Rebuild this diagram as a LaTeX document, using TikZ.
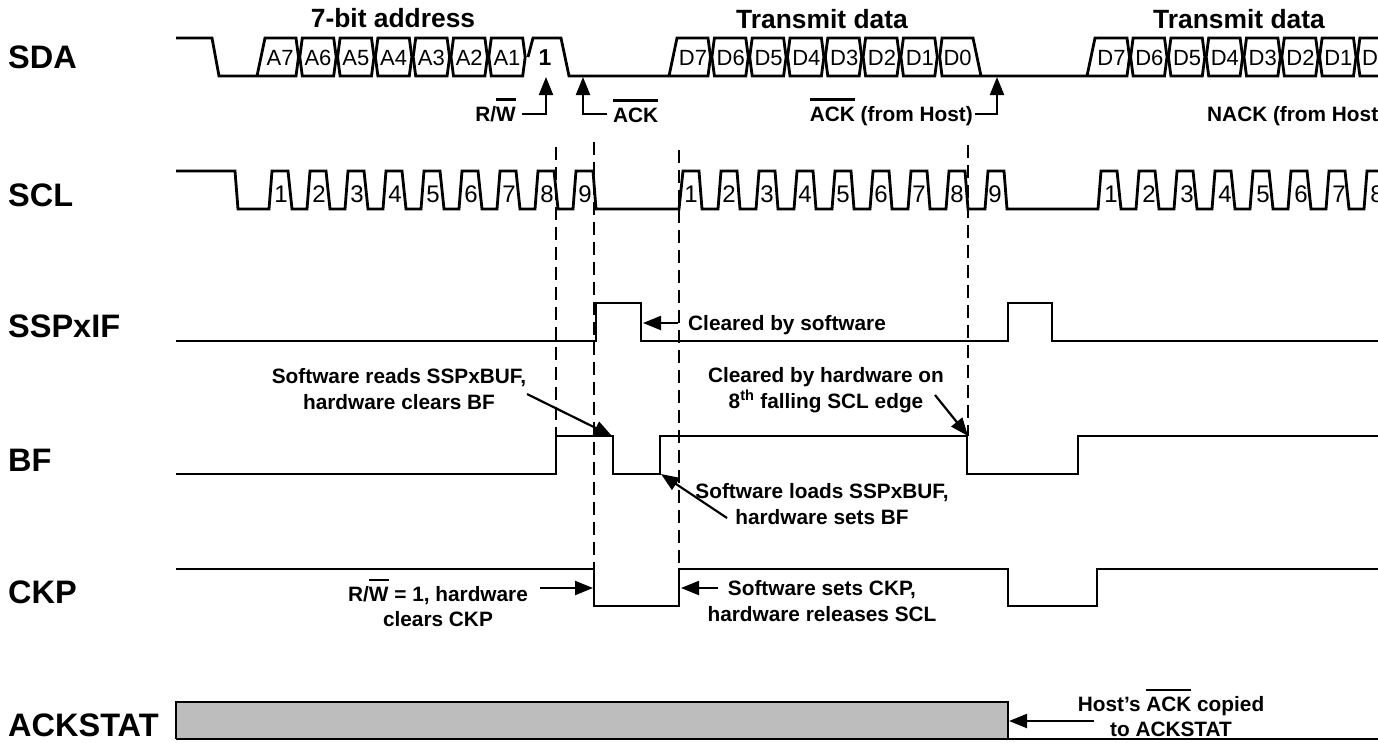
\documentclass[tikz,border=0pt]{standalone}
\usepackage{fontspec}
\setmainfont{Liberation Sans}
\usetikzlibrary{arrows.meta}
\newcommand{\ovl}[1]{\setbox0\hbox{#1}\rlap{\raisebox{0.98em}{\rule{\wd0}{0.11em}}}\box0\relax}
\definecolor{ackgray}{HTML}{BDBDBD}
\tikzset{
  x=1pt,y=-1pt,
  wave/.style={line width=2.8pt,line join=miter,line cap=butt,draw=black},
  guide/.style={line width=1.9pt,dash pattern=on 13pt off 7pt,draw=black},
  ann/.style={line width=2.2pt,draw=black,-{Triangle[length=18pt,width=14pt]}},
  sig/.style={font=\fontsize{32.5}{35}\selectfont\bfseries,anchor=base west,inner sep=0pt},
  head/.style={font=\fontsize{26.4}{28}\selectfont\bfseries,inner sep=0pt,anchor=base},
  bit/.style={font=\fontsize{22}{24}\selectfont,inner sep=0pt,anchor=base},
  num/.style={font=\fontsize{24}{26}\selectfont,inner sep=0pt,anchor=base},
  note/.style={font=\fontsize{20.8}{25.5}\selectfont\bfseries,align=center,inner sep=0pt},
}
\begin{document}
\begin{tikzpicture}
\useasboundingbox (0,0) rectangle (1378,742);
\clip (0,0) rectangle (1378,742);
% ACKSTAT bar
\draw[wave,fill=ackgray] (176,739) -- (176,702) -- (1008,702) -- (1008,739);
\draw[wave] (176,739) -- (1378,739);
% guide lines
\coordinate (g1a) at (556,147); \coordinate (g1b) at (556,436);
\coordinate (g2a) at (594,142); \coordinate (g2b) at (594,606);
\coordinate (g3a) at (679,150); \coordinate (g3b) at (679,606);
\coordinate (g4a) at (968,145); \coordinate (g4b) at (968,436);
\draw[guide] (g1a) -- (g1b);
\draw[guide] (g2a) -- (g2b);
\draw[guide] (g3a) -- (g3b);
\draw[guide] (g4a) -- (g4b);
% SDA
\draw[wave] (176,38) -- (212,38) -- (219,76) -- (257,76) -- (265,38) -- (296,38) -- (298.5,57) -- (296,76) -- (257,76);
\foreach \i in {1,...,6} {
  \pgfmathsetmacro{\c}{280.2+37.8*\i}
  \draw[wave] (\c-15.7,38) -- (\c+15.7,38) -- (\c+18.2,57) -- (\c+15.7,76) -- (\c-15.7,76) -- (\c-18.2,57) -- cycle;
}
\draw[wave] (528,57) -- (533,38) -- (561,38) -- (569,76) -- (669,76) -- (677,38) -- (708,38) -- (710.5,57) -- (708,76) -- (669,76);
\foreach \i in {1,...,6} {
  \pgfmathsetmacro{\c}{692.3+37.8*\i}
  \draw[wave] (\c-15.7,38) -- (\c+15.7,38) -- (\c+18.2,57) -- (\c+15.7,76) -- (\c-15.7,76) -- (\c-18.2,57) -- cycle;
}
\draw[wave] (981,76) -- (942,76) -- (939.7,57) -- (942,38) -- (973,38) -- (981,76) -- (1087,76) -- (1095,38) -- (1127,38) -- (1129.5,57) -- (1127,76) -- (1087,76);
\foreach \i in {1,...,7} {
  \pgfmathsetmacro{\c}{1111+37.8*\i}
  \draw[wave] (\c-15.7,38) -- (\c+15.7,38) -- (\c+18.2,57) -- (\c+15.7,76) -- (\c-15.7,76) -- (\c-18.2,57) -- cycle;
}
\foreach \t [count=\i from 0] in {A7,A6,A5,A4,A3,A2,A1} {
  \pgfmathsetmacro{\c}{280.2+37.8*\i}
  \node[bit] (a\i) at (\c,65) {\t};
}
\node[bit,font=\fontsize{23}{24}\selectfont\bfseries] (rwbit) at (545,65) {1};
\foreach \t [count=\i from 0] in {D7,D6,D5,D4,D3,D2,D1,D0} {
  \pgfmathsetmacro{\c}{693+37.8*\i}
  \node[bit] (p\i) at (\c,65) {\t};
  \pgfmathsetmacro{\c}{1111.5+37.8*\i}
  \node[bit] (q\i) at (\c,65) {\t};
}
% SCL
\draw[wave] (176,171) -- (235,171) -- (238,209) -- (269,209)
  -- (272,171) -- (288,171) -- (292,209) -- (307,209)
  -- (310,171) -- (326,171) -- (330,209) -- (345,209)
  -- (348,171) -- (364,171) -- (368,209) -- (383,209)
  -- (386,171) -- (402,171) -- (406,209) -- (421,209)
  -- (424,171) -- (440,171) -- (444,209) -- (459,209)
  -- (462,171) -- (478,171) -- (482,209) -- (497,209)
  -- (500,171) -- (516,171) -- (520,209) -- (535,209)
  -- (538,171) -- (554,171) -- (558,209) -- (573,209)
  -- (576,171) -- (593,171) -- (596,209) -- (679,209)
  -- (683,171) -- (699,171) -- (702,209) -- (718,209)
  -- (721,171) -- (737,171) -- (740,209) -- (756,209)
  -- (759,171) -- (775,171) -- (778,209) -- (794,209)
  -- (797,171) -- (813,171) -- (816,209) -- (832,209)
  -- (835,171) -- (851,171) -- (854,209) -- (870,209)
  -- (873,171) -- (889,171) -- (892,209) -- (908,209)
  -- (911,171) -- (927,171) -- (930,209) -- (946,209)
  -- (949,171) -- (965,171) -- (968,209) -- (985,209)
  -- (988,171) -- (1004,171) -- (1007,209) -- (1098,209)
  -- (1101,171) -- (1117,171) -- (1121,209) -- (1136,209)
  -- (1139,171) -- (1155,171) -- (1159,209) -- (1174,209)
  -- (1177,171) -- (1193,171) -- (1197,209) -- (1212,209)
  -- (1215,171) -- (1231,171) -- (1235,209) -- (1250,209)
  -- (1253,171) -- (1269,171) -- (1273,209) -- (1288,209)
  -- (1291,171) -- (1307,171) -- (1311,209) -- (1326,209)
  -- (1329,171) -- (1345,171) -- (1349,209) -- (1364,209)
  -- (1367,171) -- (1385,171);
\foreach \i in {1,...,9} {
  \pgfmathsetmacro{\c}{243+38*\i}
  \node[num] (s\i) at (\c,202) {\i};
  \pgfmathsetmacro{\c}{653+38*\i}
  \node[num] (u\i) at (\c,202) {\i};
}
\foreach \i in {1,...,8} {
  \pgfmathsetmacro{\c}{1073+38*\i}
  \node[num] (v\i) at (\c,202) {\i};
}
% SSPxIF
\draw[wave] (176,341) -- (596,341) -- (596,303) -- (641,303) -- (641,341) -- (1008,341) -- (1008,303) -- (1052,303) -- (1052,341) -- (1385,341);
% BF
\draw[wave] (176,474) -- (556,474) -- (556,436) -- (613,436) -- (613,474) -- (660,474) -- (660,436) -- (967,436) -- (967,474) -- (1078,474) -- (1078,436) -- (1385,436);
% CKP
\draw[wave] (176,569) -- (594,569) -- (594,606) -- (679,606) -- (679,569) -- (1008,569) -- (1008,606) -- (1097,606) -- (1097,569) -- (1385,569);
% signal names
\node[sig] (nSDA) at (8,68) {SDA};
\node[sig] (nSCL) at (8,206) {SCL};
\node[sig] (nIF) at (8,337) {SSPxIF};
\node[sig] (nBF) at (8,471) {BF};
\node[sig] (nCKP) at (8,603) {CKP};
\node[sig] (nACK) at (8,736) {ACKSTAT};
% headings
\node[head] (h1) at (393,27) {7-bit address};
\node[head] (h2) at (822,28) {Transmit data};
\node[head] (h3) at (1239,28) {Transmit data};
% notes
\node[note,anchor=base east] (rw) at (516,121) {R/\ovl{W}};
\node[note,anchor=base west] (ack1) at (613,122) {\ovl{ACK}};
\node[note,anchor=base east] (ack2) at (973,121) {\ovl{ACK} (from Host)};
\node[note,anchor=base west] (nack) at (1207,121) {NACK (from Host)};
\node[note,anchor=base west] (clr) at (688,330) {Cleared by software};
\node[note] (swr) at (399,389) {Software reads SSPxBUF,\\hardware clears BF};
\node[note] (chw) at (826,390) {Cleared by hardware on\\8\textsuperscript{th} falling SCL edge};
\node[note] (swl) at (822,504) {Software loads SSPxBUF,\\hardware sets BF};
\node[note] (rwc) at (438,603) {R/\ovl{W} = 1, hardware\\clears CKP};
\node[note] (sws) at (822,601) {Software sets CKP,\\hardware releases SCL};
\node[note] (hst) at (1171,713) {Host’s \ovl{ACK} copied\\to ACKSTAT};
% arrows
\coordinate (rwS) at (522,114); \coordinate (rwT) at (546,77);
\coordinate (ackS) at (607,114); \coordinate (ackT) at (583,77);
\coordinate (hS) at (975,114); \coordinate (hT) at (997,77);
\coordinate (clS) at (678,323); \coordinate (clT) at (643,323);
\coordinate (srS) at (527,394); \coordinate (srT) at (612,436);
\coordinate (chS) at (935,395); \coordinate (chT) at (968,436);
\coordinate (slS) at (727,518); \coordinate (slT) at (661,474);
\coordinate (rcS) at (540,588); \coordinate (rcT) at (593,588);
\coordinate (ssS) at (718,588); \coordinate (ssT) at (681,588);
\coordinate (hcS) at (1094,721); \coordinate (hcT) at (1009,721);
\draw[ann] (rwS) -| (rwT);
\draw[ann] (ackS) -| (ackT);
\draw[ann] (hS) -| (hT);
\draw[ann] (clS) -- (clT);
\draw[ann] (srS) -- (srT);
\draw[ann] (chS) -- (chT);
\draw[ann] (slS) -- (slT);
\draw[ann] (rcS) -- (rcT);
\draw[ann] (ssS) -- (ssT);
\draw[ann] (hcS) -- (hcT);
\end{tikzpicture}
\end{document}
